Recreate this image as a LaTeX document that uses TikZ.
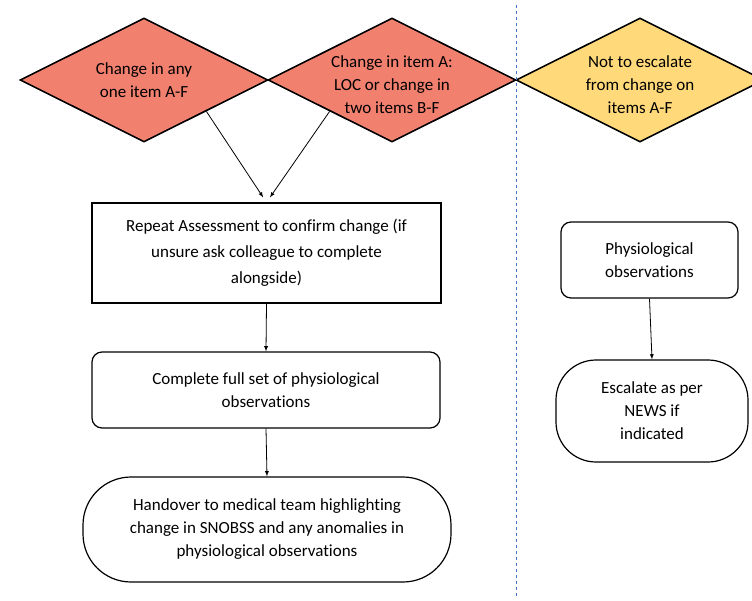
\documentclass[tikz,border=0pt]{standalone}
\usepackage{fontspec}
\setmainfont{Carlito}[Ligatures=NoCommon]
\usetikzlibrary{shapes.geometric}
\definecolor{salmon}{RGB}{241,128,111}
\definecolor{sand}{RGB}{255,217,122}
\definecolor{divblue}{RGB}{68,114,196}
\begin{document}
\begin{tikzpicture}[
    x=1pt, y=-1pt,
    font=\fontsize{17}{23}\selectfont,
    dec/.style={draw, diamond, line width=1.6pt, minimum width=248pt, minimum height=124pt, inner sep=0pt},
    lbl/.style={label={[align=center, yshift=-4.5pt]center:#1}},
    box/.style={draw, rectangle, line width=1.2pt, align=center, inner sep=2pt},
    rbox/.style={box, rounded corners=10pt},
    term/.style={box, rounded corners=#1},
    arr/.style={draw, -latex, line width=0.8pt}
]
\clip (0,0) rectangle (752,600);

\node[dec, fill=salmon, label={[align=center]center:Change in any\\one item A-F}] (anyone) at (144,80) {};
\node[dec, fill=salmon, lbl={Change in item A:\\LOC or change in\\two items B-F}] (itema) at (392,80) {};
\node[dec, fill=sand, lbl={Not to escalate\\from change on\\items A-F}] (noesc) at (640,80) {};

\coordinate (divtop) at (516,5);
\coordinate (divbot) at (516,598);
\draw[divblue, dashed, line width=0.8pt] (divtop) -- (divbot);

\node[box, minimum width=349pt, minimum height=100pt, font=\fontsize{17}{26}\selectfont] (repeat) at (266.5,253)
    {Repeat Assessment to confirm change (if\\unsure ask colleague to complete\\alongside)};
\node[rbox, minimum width=348pt, minimum height=76pt] (fullobs) at (266,390)
    {Complete full set of physiological\\observations};
\node[term=48pt, minimum width=368pt, minimum height=105pt] (handover) at (267,529.5)
    {Handover to medical team highlighting\\change in SNOBSS and any anomalies in\\physiological observations};

\node[rbox, minimum width=177pt, minimum height=76pt] (physobs) at (649.5,260)
    {Physiological\\observations};
\node[term=40pt, minimum width=192pt, minimum height=102pt] (news) at (652,411)
    {Escalate as per\\NEWS if\\indicated};

\draw[arr, shorten >=6pt] (anyone.south east) -- (repeat.north);
\draw[arr, shorten >=6pt] (itema.south west) -- (repeat.north);
\draw[arr] (repeat.south) -- (fullobs.north);
\draw[arr] (fullobs.south) -- (handover.north);
\draw[arr] (physobs.south) -- (news.north);
\end{tikzpicture}
\end{document}
